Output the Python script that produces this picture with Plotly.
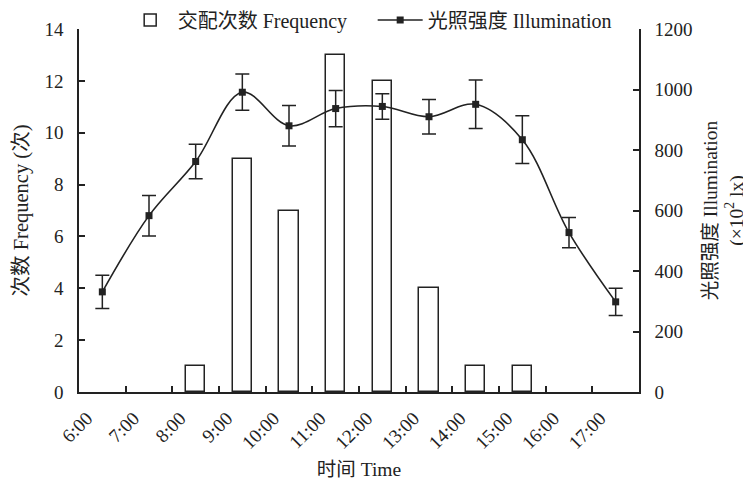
import plotly.graph_objects as go

# ---- data ----
hours = [6.5, 7.5, 8.5, 9.5, 10.5, 11.5, 12.5, 13.5, 14.5, 15.5, 16.5, 17.5]
frequency = [0, 0, 1, 9, 7, 13, 12, 4, 1, 1, 0, 0]
illumination = [331, 583, 762, 991, 880, 937, 944, 910, 951, 834, 527, 298]
illum_err = [55, 67, 57, 60, 67, 60, 42, 57, 80, 79, 50, 45]
tick_hours = [6, 7, 8, 9, 10, 11, 12, 13, 14, 15, 16, 17]
tick_labels = ["6:00", "7:00", "8:00", "9:00", "10:00", "11:00", "12:00",
               "13:00", "14:00", "15:00", "16:00", "17:00"]

FONT = "Liberation Serif, Times New Roman, Noto Sans CJK SC, serif"
INK = "#222222"
FS = 19

# zero-count hours draw no bar
bar_y = [v if v > 0 else None for v in frequency]

fig = go.Figure()
fig.add_trace(go.Bar(
    x=hours, y=bar_y, width=0.41,
    marker=dict(color="white", line=dict(color=INK, width=1.5)),
    name="交配次数 Frequency", yaxis="y",
))
fig.add_trace(go.Scatter(
    x=hours, y=illumination, yaxis="y2",
    mode="lines+markers",
    line=dict(color=INK, width=1.6, shape="spline", smoothing=1.0),
    marker=dict(symbol="square", size=7, color=INK),
    error_y=dict(type="data", array=illum_err, visible=True,
                 color=INK, thickness=1.5, width=7),
    name="光照强度 Illumination",
))

axis_common = dict(
    showline=True, linecolor=INK, linewidth=1.5,
    ticks="inside", ticklen=6, tickwidth=1.5, tickcolor=INK,
    showgrid=False, zeroline=False, automargin=False,
    tickfont=dict(family=FONT, size=FS, color=INK),
)

fig.update_layout(
    width=751, height=488,
    paper_bgcolor="white", plot_bgcolor="white",
    margin=dict(l=71, r=120, t=21, b=104, autoexpand=False),
    font=dict(family=FONT, size=FS, color=INK),
    bargap=0,
    xaxis=dict(
        range=[6, 18], tickvals=tick_hours, ticktext=tick_labels,
        tickangle=-45, ticklabelstandoff=6, ticklabelshift=8,
        title=dict(text="时间 Time", font=dict(family=FONT, size=19.5), standoff=10),
        **axis_common,
    ),
    yaxis=dict(
        range=[0, 14], dtick=2, tick0=0, ticklabelstandoff=10,
        title=dict(text="次数 Frequency (次)", font=dict(family=FONT, size=20.5), standoff=10),
        **axis_common,
    ),
    yaxis2=dict(
        range=[0, 1200], dtick=200, tick0=0, overlaying="y", side="right",
        ticklabelstandoff=10,
        title=dict(text="光照强度 Illumination<br>(×10<sup>2</sup> lx)",
                   font=dict(family=FONT, size=19.5), standoff=12),
        **axis_common,
    ),
    legend=dict(
        orientation="h", x=0.078, xanchor="left", y=1.025, yanchor="middle",
        font=dict(family=FONT, size=20, color=INK),
        bgcolor="rgba(0,0,0,0)", itemwidth=45, entrywidth=190,
    ),
)

fig.write_html("out.html")
